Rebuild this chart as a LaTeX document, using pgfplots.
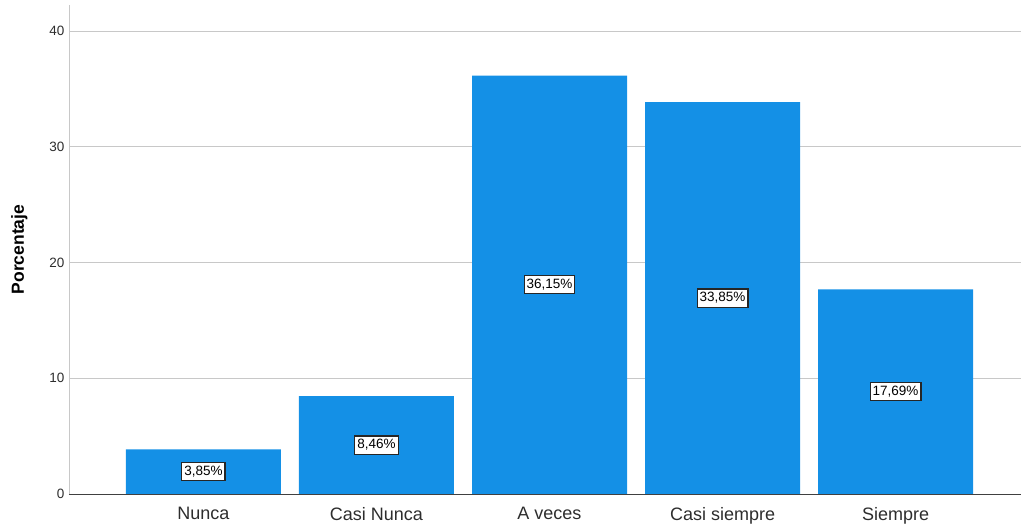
\documentclass[border=0pt]{standalone}
\usepackage{pgfplots}
\pgfplotsset{compat=1.18}
\usepackage{fontspec}
\setmainfont{Liberation Sans}
\definecolor{barblue}{RGB}{20,144,230}
\definecolor{gridgray}{RGB}{200,200,200}
\definecolor{txt}{RGB}{45,45,45}
\begin{document}
\begin{tikzpicture}
\path[use as bounding box] (-69bp,-32bp) rectangle (952bp,494bp);
\begin{axis}[
  at={(0,0)}, anchor=south west,
  scale only axis, width=952bp, height=489bp,
  ymin=0, ymax=42.25,
  xmin=-0.777, xmax=4.725,
  axis x line*=bottom, axis y line*=left,
  x axis line style={color=black!75, line width=1pt},
  y axis line style={color=gridgray, line width=1pt},
  ytick={0,10,20,30,40},
  xtick={0,1,2,3,4},
  xticklabels={Nunca,Casi Nunca,A veces,Casi siempre,Siempre},
  major tick length=0pt,
  ymajorgrids, grid style={color=gridgray, line width=1pt},
  /pgf/number format/assume math mode=true,
  yticklabel style={font=\fontsize{13.5bp}{15bp}\selectfont, text=txt, xshift=-1bp},
  xticklabel style={font=\fontsize{18bp}{20bp}\selectfont, text=txt, yshift=-10bp},
  ylabel={\textbf{Porcentaje}},
  ylabel style={font=\fontsize{17.5bp}{19bp}\selectfont, at={(ticklabel cs:0.5)}, anchor=south, yshift=15bp},
  ybar, bar width=155bp,
  visualization depends on=rawy \as \rawy,
  nodes near coords={\pgfmathprintnumber[fixed,fixed zerofill,precision=2,use comma]{\pgfplotspointmeta}\%},
  every node near coord/.append style={anchor=center, shift={(axis direction cs:0,-\rawy/2)},
    font=\fontsize{13.5bp}{15bp}\selectfont, fill=white, draw=black!85, line width=1.2pt, inner xsep=2.5bp, inner ysep=3.5bp, text=black},
]
\addplot[fill=barblue, draw=none] coordinates {(0,3.85) (1,8.46) (2,36.15) (3,33.85) (4,17.69)};
\end{axis}
\end{tikzpicture}
\end{document}
